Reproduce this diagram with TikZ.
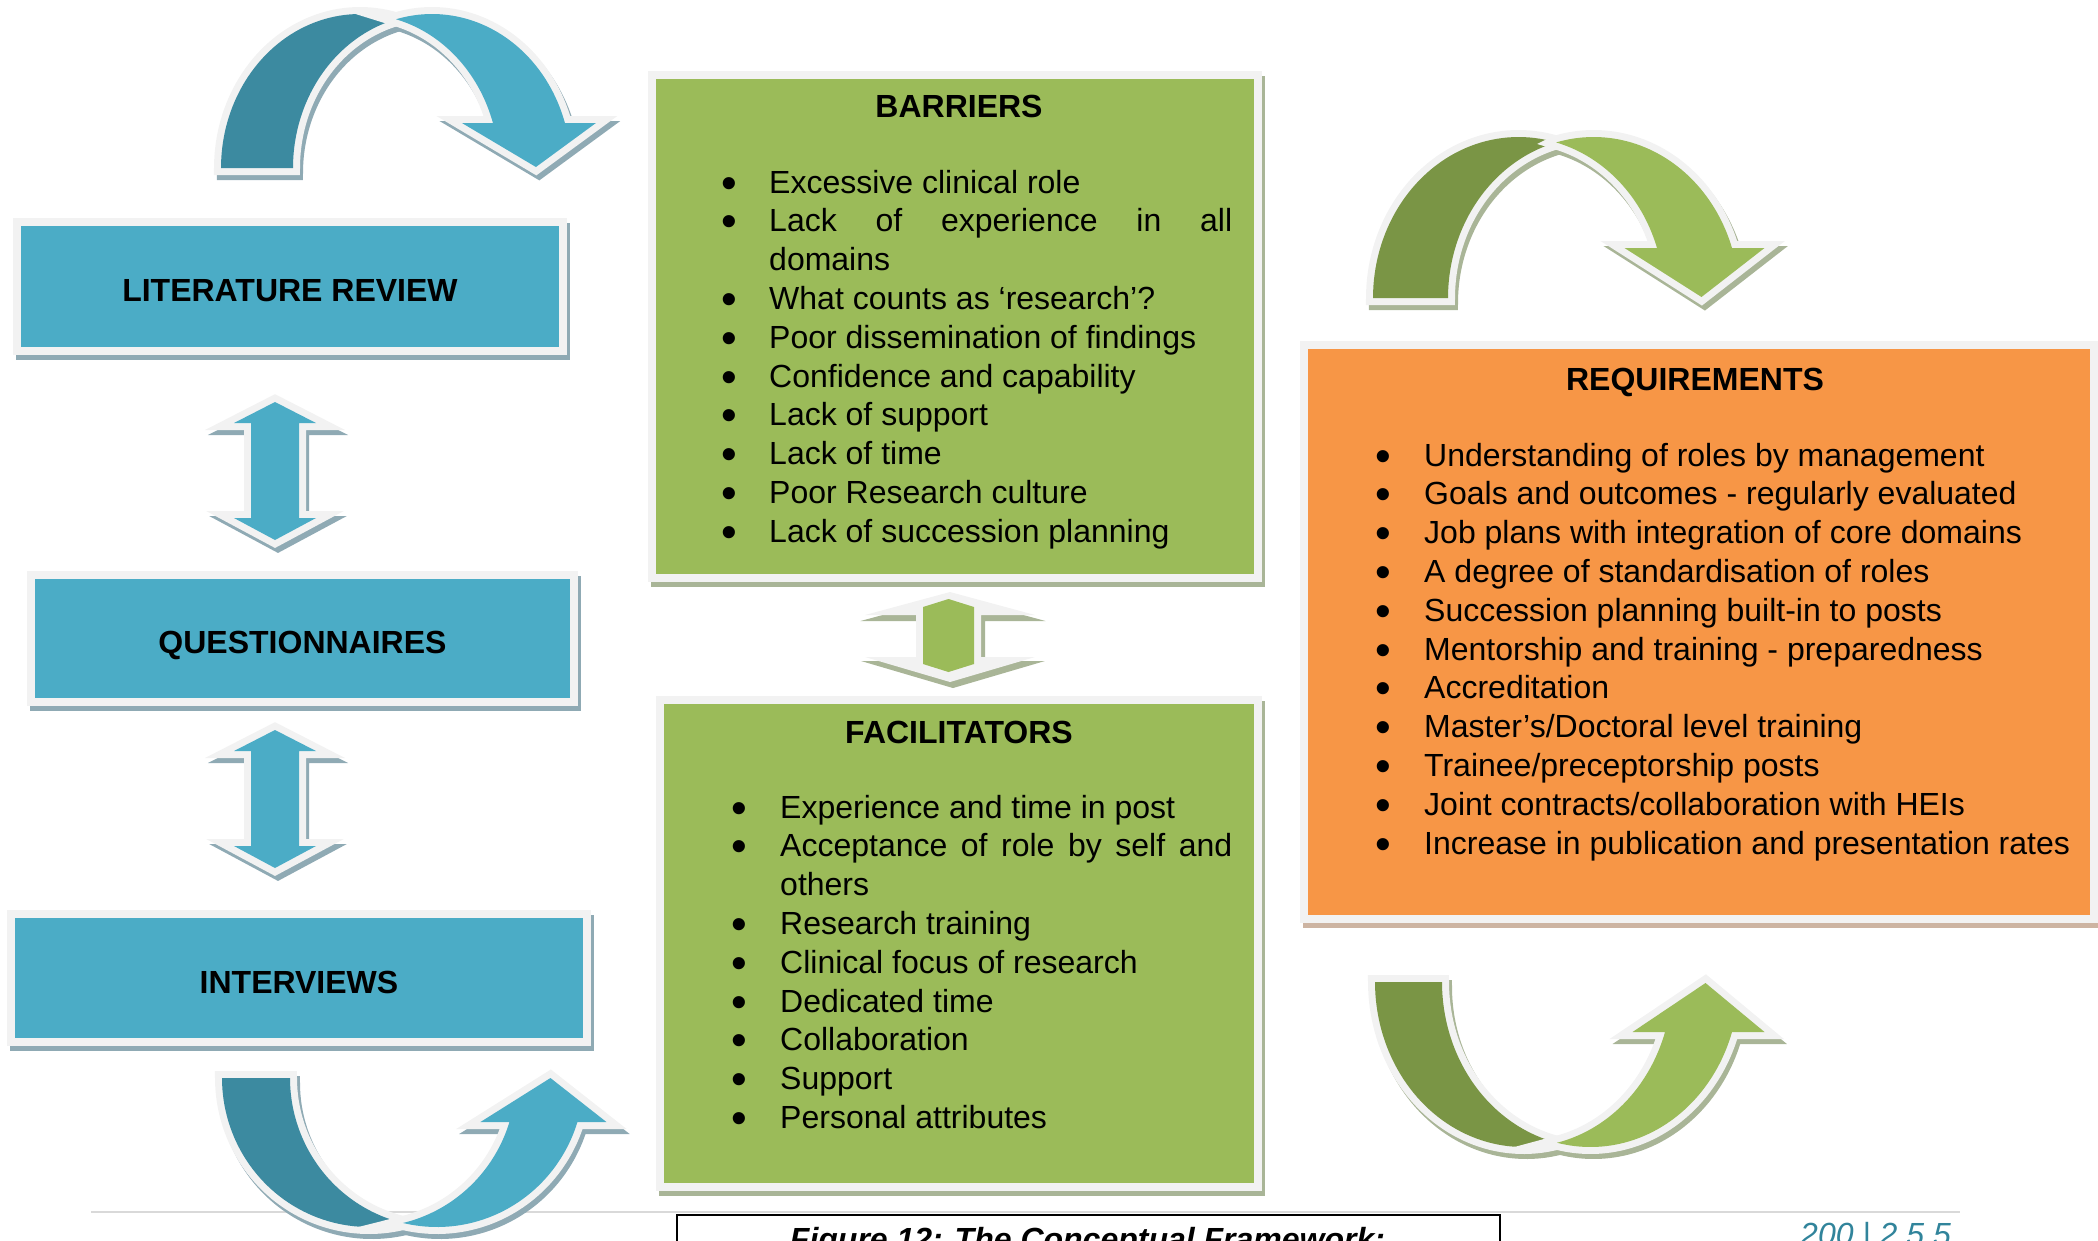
\documentclass[tikz,border=0pt]{standalone}
\usepackage{fontspec}
\setmainfont{Liberation Sans}
\usepackage{graphicx}
\definecolor{cAqua}{HTML}{4BACC6}
\definecolor{cAquaDk}{HTML}{3C8AA0}
\definecolor{cGreen}{HTML}{9BBB59}
\definecolor{cGreenDk}{HTML}{7A9545}
\definecolor{cOrange}{HTML}{F79646}
\definecolor{cRing}{HTML}{F2F2F2}
\definecolor{cShBlue}{HTML}{8FAAB4}
\definecolor{cShGreen}{HTML}{A9B597}
\definecolor{cShOrange}{HTML}{CDB4A2}
\definecolor{cRule}{HTML}{D9D9D9}
\definecolor{cPage}{HTML}{31849B}
\colorlet{ardark}{cAquaDk}\colorlet{arlight}{cAqua}\colorlet{arshadow}{cShBlue}

\newlength\bulind
\newcommand\mybullet{\raisebox{-5pt}{\scalebox{1.4}{\textbullet}}}
\newcommand\bitem[1]{\noindent\hangindent=\bulind\hangafter=1\makebox[\bulind][l]{\mybullet}#1\par}
\newcommand\listsetup[1]{\setlength\bulind{#1}\rightskip=0pt\relax\spaceskip=8.9pt plus 40pt\relax\hyphenpenalty=10000\exhyphenpenalty=10000\tolerance=9000\parskip=0pt\parindent=0pt}

\tikzset{
 ringline/.style={draw=cRing, line width=14pt, line join=miter},
 panel/.style={rectangle, inner sep=0pt, draw=cRing, line width=8pt,
   preaction={fill=#1, draw=#1, line width=8pt, transform canvas={shift={(3pt,-5pt)}}}},
 boxlabel/.style={anchor=base, inner sep=0pt, font=\bfseries\fontsize{32}{38.8}\selectfont},
 listtext/.style={anchor=base west, inner sep=0pt, align=justify, font=\fontsize{32}{38.8}\selectfont},
}

% curved two-tone arrow: cx, y0, a, b, th, sign(1 arch / -1 U), head dy, head half width, head length
\newcommand\curvedarrow[9]{%
 \pgfmathsetmacro\Cx{#1}%
 \pgfmathsetmacro\Yo{#2}%
 \pgfmathsetmacro\Ra{#3}%
 \pgfmathsetmacro\Rb{#4}%
 \pgfmathsetmacro\Th{#5}%
 \pgfmathsetmacro\Sg{#6}%
 \pgfmathsetmacro\Pc{acos(\Th/(2*\Ra))}%
 \pgfmathsetmacro\Pd{180-\Pc}%
 \pgfmathsetmacro\Ph{asin(#7/\Rb)}%
 \pgfmathsetmacro\Hy{\Yo-(\Sg)*(#7)}%
 \pgfmathsetmacro\Xi{\Cx+\Ra*cos(\Ph)}%
 \pgfmathsetmacro\Xo{\Xi+\Th}%
 \pgfmathsetmacro\Xm{(\Xi+\Xo)/2}%
 \pgfmathsetmacro\Ty{\Yo-(\Sg)*(#7-#9)}%
 \pgfmathsetmacro\Wl{\Xm-#8}%
 \pgfmathsetmacro\Wr{\Xm+#8}%
 \pgfmathsetmacro\Tx{\Xm+7}%
 \def\darkpath{plot[domain=180:\Pc,samples=50,variable=\t]({\Cx+\Ra*cos(\t)},{\Yo-(\Sg)*\Rb*sin(\t)}) -- plot[domain=\Pd:180,samples=50,variable=\t]({\Cx+\Th+\Ra*cos(\t)},{\Yo-(\Sg)*\Rb*sin(\t)}) -- cycle}%
 \def\lightpath{plot[domain=\Pd:\Ph,samples=50,variable=\t]({\Cx+\Th+\Ra*cos(\t)},{\Yo-(\Sg)*\Rb*sin(\t)}) -- (\Wr,\Hy) -- (\Tx,\Ty) -- (\Wl,\Hy) -- plot[domain=\Ph:\Pc,samples=50,variable=\t]({\Cx+\Ra*cos(\t)},{\Yo-(\Sg)*\Rb*sin(\t)}) -- cycle}%
 \begin{scope}[shift={(3,5)}]
  \filldraw[arshadow, line width=14pt, line join=miter] \darkpath;
  \filldraw[arshadow, line width=14pt, line join=miter] \lightpath;
 \end{scope}
 \draw[ringline] \darkpath;
 \fill[ardark] \darkpath;
 \draw[ringline] \lightpath;
 \fill[arlight] \lightpath;
}

% up-down arrow: cx, tip1, base1, base2, tip2, shaft half width, wing half width
\newcommand\udarrow[7]{%
 \def\udpath{(#1,#2) -- ({#1+#7},#3) -- ({#1+#6},#3) -- ({#1+#6},#4) -- ({#1+#7},#4) -- (#1,#5) -- ({#1-#7},#4) -- ({#1-#6},#4) -- ({#1-#6},#3) -- ({#1-#7},#3) -- cycle}%
 \filldraw[arshadow, line width=14pt, line join=miter, shift={(3,5)}] \udpath;
 \draw[ringline] \udpath;
 \fill[arlight] \udpath;
}

\begin{document}
\begin{tikzpicture}[x=1pt, y=-1pt]
\useasboundingbox (0,0) rectangle (2098,1240);
\clip (0,0) rectangle (2098,1240);

% footer rule
\coordinate (rl) at (91,1212);
\coordinate (rr) at (1960,1212);
\draw[cRule, line width=2pt] (rl) -- (rr);

% left column boxes
\node[panel=cShBlue, fill=cAqua, minimum width=546pt, minimum height=129pt] (lit) at (290,286.5) {};
\node[boxlabel] (tlit) at (290,301) {LITERATURE REVIEW};
\node[panel=cShBlue, fill=cAqua, minimum width=543pt, minimum height=127pt] (quest) at (302.5,638.5) {};
\node[boxlabel] (tquest) at (302.5,653.5) {QUESTIONNAIRES};
\node[panel=cShBlue, fill=cAqua, minimum width=576pt, minimum height=128pt] (inter) at (299,978) {};
\node[boxlabel] (tinter) at (299,993) {INTERVIEWS};

% blue arrows
\colorlet{ardark}{cAquaDk}\colorlet{arlight}{cAqua}\colorlet{arshadow}{cShBlue}
\curvedarrow{360}{168}{139}{154}{72}{1}{45}{67}{44}
\curvedarrow{369}{1078}{147}{149}{68}{-1}{44}{63}{44}
\udarrow{275}{402}{423}{518}{540}{24}{41}
\udarrow{275}{730}{751}{846}{868}{24}{41}

% barriers
\node[panel=cShGreen, fill=cGreen, minimum width=606pt, minimum height=503pt] (bar) at (955,326.5) {};
\node[boxlabel] (hbar) at (959,117.5) {BARRIERS};
\node[listtext, text width=511pt] (lbar) at (721,193) {\listsetup{48pt}%
\bitem{Excessive clinical role}%
\bitem{Lack of experience in all domains}%
\bitem{What counts as ‘research’?}%
\bitem{Poor dissemination of findings}%
\bitem{Confidence and capability}%
\bitem{Lack of support}%
\bitem{Lack of time}%
\bitem{Poor Research culture}%
\bitem{Lack of succession planning}};

% green double arrow
\filldraw[cShGreen, line width=2pt, shift={(3,5)}] (950,592) -- (1035,615) -- (981,615) -- (981,657) -- (1035,657) -- (950,682) -- (865,657) -- (916,657) -- (916,615) -- (865,615) -- cycle;
\fill[cRing] (950,592) -- (1035,615) -- (981,615) -- (981,657) -- (1035,657) -- (950,682) -- (865,657) -- (916,657) -- (916,615) -- (865,615) -- cycle;
\fill[cGreen] (923,607) -- (948.5,599) -- (974,607) -- (974,664) -- (948.5,672) -- (923,664) -- cycle;

% facilitators
\node[panel=cShGreen, fill=cGreen, minimum width=598pt, minimum height=487pt] (fac) at (959,943.5) {};
\node[boxlabel] (hfac) at (959,743.5) {FACILITATORS};
\node[listtext, text width=501pt] (lfac) at (731,818) {\listsetup{49pt}%
\bitem{Experience and time in post}%
\bitem{Acceptance of role by self and others}%
\bitem{Research training}%
\bitem{Clinical focus of research}%
\bitem{Dedicated time}%
\bitem{Collaboration}%
\bitem{Support}%
\bitem{Personal attributes}};

% requirements
\node[panel=cShOrange, fill=cOrange, minimum width=790pt, minimum height=574pt] (req) at (1699,632) {};
\node[boxlabel] (hreq) at (1695,390.5) {REQUIREMENTS};
\node[listtext, text width=715pt] (lreq) at (1375,466) {\listsetup{49pt}%
\bitem{Understanding of roles by management}%
\bitem{Goals and outcomes - regularly evaluated}%
\bitem{Job plans with integration of core domains}%
\bitem{A degree of standardisation of roles}%
\bitem{Succession planning built-in to posts}%
\bitem{Mentorship and training - preparedness}%
\bitem{Accreditation}%
\bitem{Master’s/Doctoral level training}%
\bitem{Trainee/preceptorship posts}%
\bitem{Joint contracts/collaboration with HEIs}%
\bitem{Increase in publication and presentation rates}};

% green curved arrows
\colorlet{ardark}{cGreenDk}\colorlet{arlight}{cGreen}\colorlet{arshadow}{cShGreen}
\curvedarrow{1518.6}{298}{145.6}{161}{75}{1}{50}{70}{49}
\curvedarrow{1523.5}{982}{148.5}{165}{67}{-1}{50}{66}{49}

% caption and page number
\node[draw=black, fill=white, line width=2pt, inner sep=0pt, minimum width=823pt, minimum height=60pt, anchor=north west] (capbox) at (676,1214) {};
\node[anchor=base, inner sep=0pt, font=\bfseries\itshape\fontsize{32}{38}\selectfont] (cap) at (1087.5,1250) {Figure 12: The Conceptual Framework:};
\node[anchor=base west, inner sep=0pt, text=cPage, font=\itshape\fontsize{32}{38}\selectfont] (pg) at (1800,1245) {200 | 2.5.5};
\end{tikzpicture}
\end{document}
